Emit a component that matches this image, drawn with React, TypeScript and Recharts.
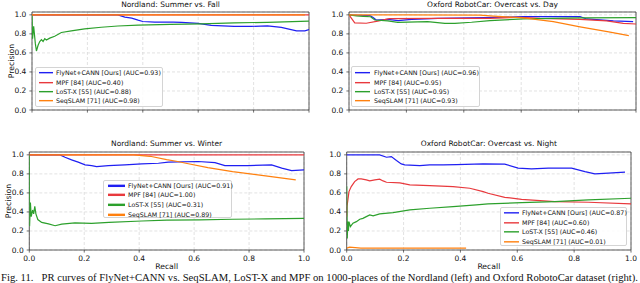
import React from "react";
import {
  LineChart,
  Line,
  XAxis,
  YAxis,
  CartesianGrid,
  ReferenceArea,
} from "recharts";

type Pair = [number, number];

const recallTicks = [0, 0.2, 0.4, 0.6, 0.8, 1.0];
const precisionTicks = [0, 0.2, 0.4, 0.6, 0.8, 1.0];
const tickLabels = ["0.0", "0.2", "0.4", "0.6", "0.8", "1.0"];

const seriesNames = ["FlyNet+CANN [Ours]", "MPF [84]", "LoST-X [55]", "SeqSLAM [71]"];
const seriesColors = ["#1f1ff2", "#e8393d", "#2ca02c", "#ff800e"];

// Nordland: Summer vs. Fall
const fallAuc = ["0.93", "0.40", "0.88", "0.98"];
const fallFly: Pair[] = [
  [0, 1], [0.31, 1], [0.335, 0.976], [0.36, 0.965], [0.383, 0.944], [0.4, 0.93],
  [0.443, 0.923], [0.51, 0.923], [0.54, 0.92], [0.6, 0.91], [0.647, 0.889],
  [0.73, 0.878], [0.79, 0.878], [0.85, 0.885], [0.9, 0.868], [0.955, 0.832],
  [0.985, 0.832], [1.0, 0.845],
];
const fallMpf: Pair[] = [[0, 1], [1, 1]];
const fallLost: Pair[] = [
  [0, 1], [0.002, 0.75], [0.006, 0.88], [0.012, 0.7], [0.016, 0.62], [0.022, 0.68],
  [0.028, 0.72], [0.034, 0.74], [0.04, 0.72], [0.046, 0.75], [0.052, 0.735],
  [0.064, 0.755], [0.082, 0.775], [0.106, 0.815], [0.142, 0.832], [0.19, 0.853],
  [0.25, 0.87], [0.31, 0.883], [0.383, 0.893], [0.5, 0.9], [0.61, 0.905],
  [0.73, 0.915], [0.85, 0.922], [1.0, 0.935],
];
const fallSeq: Pair[] = [[0, 1], [0.985, 1]];

// Oxford RobotCar: Overcast vs. Day
const dayAuc = ["0.96", "0.95", "0.95", "0.93"];
const dayFly: Pair[] = [
  [0, 1], [0.055, 0.993], [0.073, 0.993], [0.084, 0.971], [0.095, 0.946],
  [0.136, 0.953], [0.171, 0.94], [0.218, 0.953], [0.31, 0.964], [0.473, 0.971],
  [0.607, 0.982], [0.805, 0.982], [0.828, 0.957], [0.921, 0.936], [0.99, 0.929],
];
const dayMpf: Pair[] = [
  [0, 1], [0.02, 0.915], [0.06, 0.912], [0.1, 0.935], [0.14, 0.96], [0.3, 0.962],
  [0.49, 0.964], [0.595, 0.975], [0.665, 0.964], [0.805, 0.953], [0.898, 0.936],
  [0.956, 0.911], [1.0, 0.904],
];
const dayLost: Pair[] = [
  [0, 1], [0.026, 0.99], [0.05, 0.985], [0.075, 0.98], [0.09, 0.946], [0.135, 0.936],
  [0.17, 0.922], [0.274, 0.929], [0.334, 0.911], [0.369, 0.911], [0.427, 0.922],
  [0.491, 0.94], [0.607, 0.957], [0.805, 0.968], [1.0, 0.971],
];
const daySeq: Pair[] = [
  [0, 1], [0.2, 1], [0.456, 0.998], [0.491, 0.99], [0.607, 0.968], [0.712, 0.928],
  [0.805, 0.874], [0.905, 0.822], [0.975, 0.782],
];

// Nordland: Summer vs. Winter
const winterAuc = ["0.91", "1.00", "0.31", "0.89"];
const winterFly: Pair[] = [
  [0, 1], [0.112, 1], [0.13, 0.975], [0.154, 0.947], [0.178, 0.923], [0.203, 0.895],
  [0.227, 0.887], [0.245, 0.877], [0.288, 0.887], [0.348, 0.895], [0.409, 0.905],
  [0.47, 0.912], [0.506, 0.923], [0.615, 0.93], [0.676, 0.919], [0.712, 0.887],
  [0.797, 0.887], [0.882, 0.895], [0.919, 0.86], [0.955, 0.835], [1.0, 0.842],
];
const winterMpf: Pair[] = [[0, 1], [1, 1]];
const winterLost: Pair[] = [
  [0, 1], [0.001, 0.25], [0.004, 0.5], [0.007, 0.35], [0.012, 0.42], [0.016, 0.38],
  [0.02, 0.46], [0.024, 0.38], [0.031, 0.32], [0.045, 0.29], [0.07, 0.275],
  [0.094, 0.255], [0.118, 0.272], [0.166, 0.285], [0.227, 0.28], [0.29, 0.29],
  [0.41, 0.305], [0.5, 0.315], [0.62, 0.316], [0.74, 0.323], [0.86, 0.327], [1.0, 0.333],
];
const winterSeq: Pair[] = [
  [0, 1], [0.38, 1], [0.44, 0.985], [0.5, 0.95], [0.54, 0.93], [0.57, 0.912],
  [0.65, 0.865], [0.74, 0.824], [0.86, 0.779], [0.97, 0.737],
];

// Oxford RobotCar: Overcast vs. Night
const nightAuc = ["0.87", "0.60", "0.46", "0.01"];
const nightFly: Pair[] = [
  [0, 1], [0.116, 1], [0.14, 0.975], [0.157, 0.982], [0.175, 0.94], [0.192, 0.905],
  [0.204, 0.895], [0.257, 0.887], [0.292, 0.895], [0.339, 0.895], [0.386, 0.898],
  [0.48, 0.905], [0.556, 0.902], [0.603, 0.86], [0.65, 0.853], [0.709, 0.86],
  [0.791, 0.86], [0.838, 0.824], [0.873, 0.8], [0.92, 0.807], [0.979, 0.818],
];
const nightMpf: Pair[] = [
  [0, 0.35], [0.001, 0.456], [0.008, 0.614], [0.016, 0.667], [0.028, 0.719],
  [0.04, 0.747], [0.051, 0.747], [0.069, 0.737], [0.081, 0.726], [0.099, 0.737],
  [0.116, 0.744], [0.128, 0.726], [0.14, 0.712], [0.187, 0.705], [0.222, 0.684],
  [0.292, 0.677], [0.374, 0.667], [0.433, 0.649], [0.48, 0.614], [0.497, 0.596],
  [0.556, 0.554], [0.615, 0.533], [0.732, 0.509], [0.85, 0.502], [1.0, 0.484],
];
const nightLost: Pair[] = [
  [0, 0.67], [0.002, 0.12], [0.004, 0.3], [0.006, 0.2], [0.008, 0.298], [0.013, 0.245],
  [0.022, 0.281], [0.034, 0.298], [0.046, 0.323], [0.057, 0.333], [0.069, 0.351],
  [0.081, 0.368], [0.093, 0.358], [0.116, 0.379], [0.163, 0.393], [0.222, 0.421],
  [0.292, 0.439], [0.374, 0.456], [0.456, 0.474], [0.497, 0.484], [0.615, 0.498],
  [0.732, 0.509], [0.85, 0.526], [1.0, 0.544],
];
const nightSeq: Pair[] = [[0, 0.02], [0.01, 0.03], [0.03, 0.025], [0.05, 0.02], [0.42, 0.02]];

const caption =
  "Fig. 11.   PR curves of FlyNet+CANN vs. SeqSLAM, LoST-X and MPF on 1000-places of the Nordland (left) and Oxford RobotoCar dataset (right).";

const FONT = "DejaVu Sans";
const Y_MAX = 1.03;

interface LegendBox {
  left: number;
  top: number;
  width: number;
  height: number;
  rowH: number;
  padTop: number;
  lineX: number;
  lineLen: number;
  textX: number;
  lineW: number;
}

interface PanelProps {
  left: number;
  top: number;
  width: number;
  height: number;
  frame: { x0: number; x1: number; y0: number; y1: number };
  title: string;
  titleY: number;
  series: Pair[][];
  auc: string[];
  legend: LegendBox;
  xLabels: boolean;
  yTitleX?: number;
}

const toPts = (s: Pair[]) => s.map(([r, p]) => ({ r, p }));

// tick text drawn from the label list, so "1.0" keeps its trailing zero
const labelFor = (v: number) => {
  const i = recallTicks.findIndex((t) => Math.abs(t - v) < 1e-6);
  return i >= 0 ? tickLabels[i] : String(v);
};

const XTick = (show: boolean) => (p: any) =>
  show ? (
    <text
      x={p.x}
      y={p.y + 1}
      textAnchor="middle"
      dominantBaseline="hanging"
      fontFamily={FONT}
      fontSize={7.5}
      fill="#111"
    >
      {labelFor(p.payload.value)}
    </text>
  ) : (
    <g />
  );

const YTick = (p: any) => (
  <text
    x={p.x - 1}
    y={p.y}
    textAnchor="end"
    dominantBaseline="central"
    fontFamily={FONT}
    fontSize={7.5}
    fill="#111"
  >
    {labelFor(p.payload.value)}
  </text>
);

const Panel: React.FC<PanelProps> = (props) => {
  const { left, top, width, height, frame, series, auc, legend } = props;
  const xAxisH = props.xLabels ? 20 : 4;
  const cx = (frame.x0 + frame.x1) / 2;

  return (
    <div style={{ position: "absolute", left, top, width, height }}>
      <LineChart
        width={width}
        height={height}
        margin={{
          top: frame.y0,
          right: width - frame.x1,
          bottom: height - frame.y1 - xAxisH,
          left: 0,
        }}
      >
        <CartesianGrid stroke="#d6d6d6" strokeDasharray="3 2" strokeWidth={0.7} />
        <XAxis
          dataKey="r"
          type="number"
          domain={[0, 1]}
          ticks={recallTicks}
          interval={0}
          height={xAxisH}
          axisLine={false}
          tickSize={2.6}
          tickMargin={1.5}
          tickLine={{ stroke: "#333", strokeWidth: 0.7 }}
          tick={XTick(props.xLabels)}
          allowDataOverflow
        />
        <YAxis
          type="number"
          domain={[0, Y_MAX]}
          ticks={precisionTicks}
          interval={0}
          width={frame.x0}
          axisLine={false}
          tickSize={2.6}
          tickMargin={2}
          tickLine={{ stroke: "#333", strokeWidth: 0.7 }}
          tick={YTick}
          allowDataOverflow
        />
        {series.map((s, i) => (
          <Line
            key={i}
            data={toPts(s)}
            dataKey="p"
            type="linear"
            stroke={seriesColors[i]}
            strokeWidth={1.2}
            dot={false}
            activeDot={false}
            isAnimationActive={false}
          />
        ))}
        <ReferenceArea
          x1={0}
          x2={1}
          y1={0}
          y2={Y_MAX}
          fill="none"
          stroke="#333"
          strokeWidth={0.8}
          ifOverflow="visible"
        />
      </LineChart>

      <div
        style={{
          position: "absolute",
          left: cx - 150,
          width: 300,
          top: props.titleY - 5,
          height: 10,
          lineHeight: "10px",
          textAlign: "center",
          fontFamily: FONT,
          fontSize: 7.5,
          color: "#111",
          whiteSpace: "nowrap",
        }}
      >
        {props.title}
      </div>

      {props.yTitleX !== undefined && (
        <div
          style={{
            position: "absolute",
            left: props.yTitleX - 30,
            top: (frame.y0 + frame.y1) / 2 - 5,
            width: 60,
            height: 10,
            lineHeight: "10px",
            textAlign: "center",
            transform: "rotate(-90deg)",
            fontFamily: FONT,
            fontSize: 7.7,
            color: "#111",
          }}
        >
          Precision
        </div>
      )}

      {props.xLabels && (
        <div
          style={{
            position: "absolute",
            left: cx - 30,
            top: 122,
            width: 60,
            height: 10,
            lineHeight: "10px",
            textAlign: "center",
            fontFamily: FONT,
            fontSize: 7.7,
            color: "#111",
          }}
        >
          Recall
        </div>
      )}

      <div
        style={{
          position: "absolute",
          left: legend.left,
          top: legend.top,
          width: legend.width,
          height: legend.height,
          border: "0.8px solid #d4d4d4",
          borderRadius: 2,
          background: "rgba(255,255,255,0.85)",
          boxSizing: "border-box",
        }}
      >
        {seriesNames.map((n, i) => (
          <div
            key={n}
            style={{
              position: "absolute",
              left: 0,
              top: legend.padTop + i * legend.rowH,
              height: legend.rowH,
              width: legend.width,
            }}
          >
            <svg
              width={legend.lineLen}
              height={legend.rowH}
              style={{ position: "absolute", left: legend.lineX, top: 0 }}
            >
              <line
                x1={0}
                x2={legend.lineLen}
                y1={legend.rowH / 2}
                y2={legend.rowH / 2}
                stroke={seriesColors[i]}
                strokeWidth={legend.lineW}
              />
            </svg>
            <span
              style={{
                position: "absolute",
                left: legend.textX,
                top: 0,
                lineHeight: `${legend.rowH}px`,
                fontFamily: FONT,
                fontSize: 6.3,
                color: "#111",
                whiteSpace: "nowrap",
              }}
            >
              {n} (AUC={auc[i]})
            </span>
          </div>
        ))}
      </div>
    </div>
  );
};

export default function App() {
  return (
    <div
      style={{
        position: "absolute",
        left: 0,
        top: 0,
        width: 640,
        height: 283,
        overflow: "hidden",
        background: "#fff",
      }}
    >
      <Panel
        left={0}
        top={0}
        width={320}
        height={140}
        frame={{ x0: 32, x1: 309, y0: 12, y1: 110 }}
        title="Nordland: Summer vs. Fall"
        titleY={4.5}
        series={[fallFly, fallMpf, fallLost, fallSeq]}
        auc={fallAuc}
        legend={{ left: 35, top: 67, width: 128, height: 40, rowH: 9.33, padTop: 0.3, lineX: 3, lineLen: 14, textX: 20, lineW: 1.4 }}
        xLabels={false}
        yTitleX={12}
      />
      <Panel
        left={320}
        top={0}
        width={320}
        height={140}
        frame={{ x0: 29, x1: 316, y0: 12, y1: 110 }}
        title="Oxford RobotCar: Overcast vs. Day"
        titleY={4.5}
        series={[dayFly, dayMpf, dayLost, daySeq]}
        auc={dayAuc}
        legend={{ left: 31, top: 66, width: 129, height: 41, rowH: 9.33, padTop: 1.3, lineX: 2.5, lineLen: 15, textX: 22, lineW: 1.4 }}
        xLabels={false}
      />
      <Panel
        left={0}
        top={140}
        width={320}
        height={143}
        frame={{ x0: 29.3, x1: 304, y0: 12, y1: 110 }}
        title="Nordland: Summer vs. Winter"
        titleY={4}
        series={[winterFly, winterMpf, winterLost, winterSeq]}
        auc={winterAuc}
        legend={{ left: 103, top: 40, width: 129, height: 38, rowH: 9.67, padTop: -0.5, lineX: 3.5, lineLen: 17, textX: 24, lineW: 2.4 }}
        xLabels={true}
        yTitleX={9}
      />
      <Panel
        left={320}
        top={140}
        width={320}
        height={143}
        frame={{ x0: 26.7, x1: 311, y0: 12, y1: 110 }}
        title="Oxford RobotCar: Overcast vs. Night"
        titleY={4}
        series={[nightFly, nightMpf, nightLost, nightSeq]}
        auc={nightAuc}
        legend={{ left: 180, top: 66.7, width: 127, height: 39.3, rowH: 9.67, padTop: 0.2, lineX: 3, lineLen: 15, textX: 21, lineW: 1.4 }}
        xLabels={true}
      />
      <svg
        width={640}
        height={283}
        style={{ position: "absolute", left: 0, top: 0, pointerEvents: "none" }}
      >
        <text
          x={1}
          y={281}
          textLength={637}
          lengthAdjust="spacingAndGlyphs"
          fontFamily="Liberation Serif"
          fontSize={10.5}
          fill="#111"
          style={{ whiteSpace: "pre" }}
        >
          {caption}
        </text>
      </svg>
    </div>
  );
}
